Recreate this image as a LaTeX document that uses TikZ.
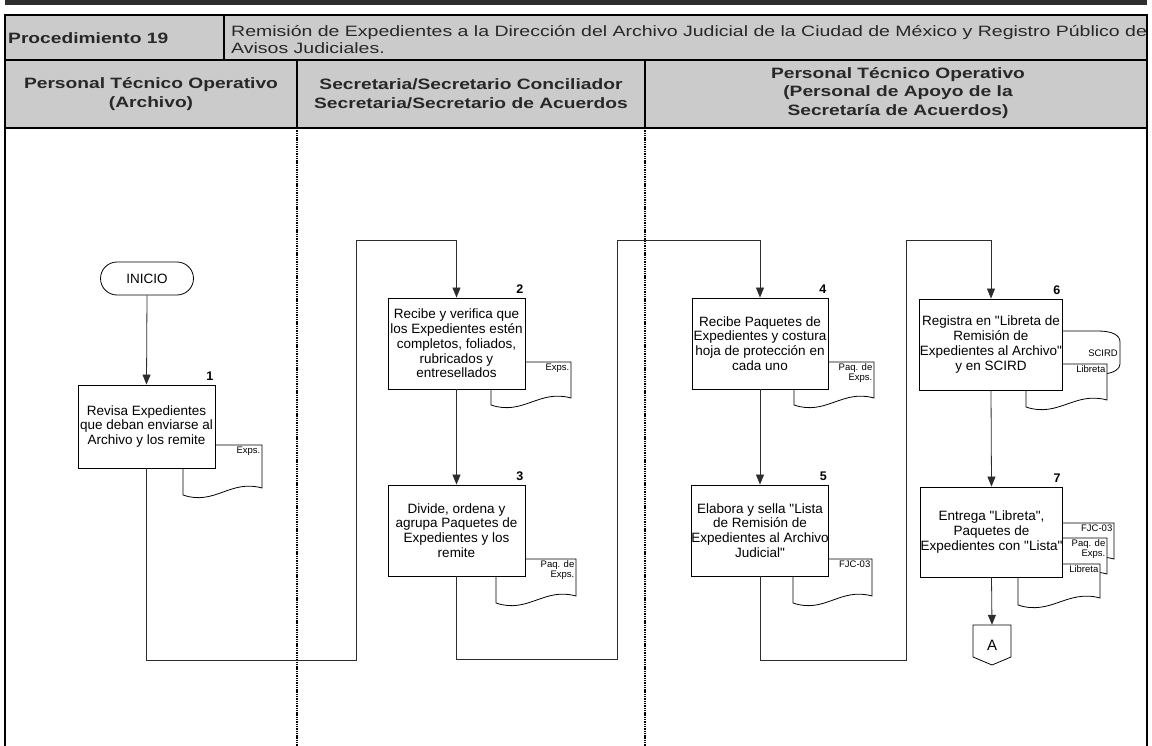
\documentclass[tikz,border=0pt]{standalone}
\usepackage{fontspec}
\setmainfont{Liberation Sans}
\newfontfamily\bodyfont{Liberation Sans}
\newfontfamily\hdrfont{Liberation Sans}[FakeStretch=1.28]
\newfontfamily\ttlfont{Liberation Sans}[FakeStretch=1.30]
\usetikzlibrary{arrows.meta,shapes.misc}
\definecolor{hdrfill}{RGB}{203,203,203}
\definecolor{hdrtext}{RGB}{40,40,40}
\definecolor{barc}{RGB}{45,45,45}
\definecolor{connc}{RGB}{45,45,45}
\newcommand\mydoc[6]{%
  \draw[docline] (#2,#3) -- ({#2+#4},#3) -- ({#2+#4},{#3+#5-7})
    .. controls ({#2+0.6*#4},{#3+#5-16}) and ({#2+0.4*#4},{#3+#5+11}) .. (#2,{#3+#5}) -- cycle;
  \node[doclab] (#1) at ({#2+#4-1.5},{#3+1.5}) {#6};
}
\begin{document}
\begin{tikzpicture}[x=1pt,y=-1pt,
  hdrline/.style={draw=black,line width=1.1pt},
  lane/.style={draw=black,line width=1.7pt,dash pattern=on 1.4pt off 0.9pt},
  boxst/.style={draw=black,line width=0.9pt,fill=white,align=center,
    font=\bodyfont\fontsize{13.5}{14.8}\selectfont,inner sep=0pt,minimum width=137pt,minimum height=91pt},
  docline/.style={draw=black,line width=0.8pt,fill=white},
  doclab/.style={anchor=north east,align=right,inner sep=0pt,font=\bodyfont\fontsize{9.5}{10}\selectfont},
  stepno/.style={anchor=south east,inner sep=0pt,font=\bodyfont\bfseries\fontsize{12.5}{14}\selectfont},
  flow/.style={draw=connc,line width=0.8pt,-{Triangle[width=8pt,length=10pt]}},
  hdrtxt/.style={text=hdrtext,inner sep=0pt},
  termst/.style={draw=black,line width=0.8pt,rounded rectangle,minimum width=93pt,minimum height=33pt,
    inner sep=0pt,font=\bodyfont\fontsize{13.5}{15}\selectfont}
]
\useasboundingbox (0,0) rectangle (1152,746);

% top bar
\fill[barc] (5,0.5) rectangle (1147,5);

% header table
\draw[hdrline,fill=hdrfill] (5,15) rectangle (1147,128);
\draw[hdrline] (5,60) -- (1147,60);
\draw[hdrline] (224,15) -- (224,60);
\draw[hdrline] (297,60) -- (297,128);
\draw[hdrline] (645,60) -- (645,128);
\draw[hdrline] (5,128) -- (5,746);
\draw[hdrline] (1147,128) -- (1147,746);

\node[hdrtxt,anchor=west,font=\hdrfont\bfseries\fontsize{15}{18}\selectfont] (proc) at (8,38) {Procedimiento 19};
\node[hdrtxt,anchor=west,align=left,font=\ttlfont\fontsize{15}{17}\selectfont] (title) at (231,39.5)
  {Remisión de Expedientes a la Dirección del Archivo Judicial de la Ciudad de México y Registro Público de\\Avisos Judiciales.};
\node[hdrtxt,align=center,font=\hdrfont\bfseries\fontsize{15}{19}\selectfont] (h1) at (151,94)
  {Personal Técnico Operativo\\(Archivo)};
\node[hdrtxt,align=center,font=\hdrfont\bfseries\fontsize{15}{19}\selectfont] (h2) at (471,94)
  {Secretaria/Secretario Conciliador\\Secretaria/Secretario de Acuerdos};
\node[hdrtxt,align=center,font=\hdrfont\bfseries\fontsize{15}{18.5}\selectfont] (h3) at (898,93)
  {Personal Técnico Operativo\\(Personal de Apoyo de la\\Secretaría de Acuerdos)};

% lane separators
\draw[lane] (297,128) -- (297,746);
\draw[lane] (645,128) -- (645,746);

% documents (behind boxes)
\mydoc{d1}{183}{445}{79}{50}{Exps.}
\mydoc{d2}{491}{362}{80}{43}{Exps.}
\mydoc{d3}{496}{559}{80}{44}{Paq. de\\Exps.}
\mydoc{d4}{794}{362}{80}{43}{Paq. de\\Exps.}
\mydoc{d5}{793}{559}{79}{44}{FJC-03}
% SCIRD store
\draw[docline] (1000,331) -- (1098,331) .. controls (1112,331) and (1120,335) .. (1120,342)
  -- (1120,364) .. controls (1120,369) and (1114,373) .. (1104,374) -- (1000,374) -- cycle;
\node[anchor=east,inner sep=0pt,font=\bodyfont\fontsize{9.5}{10}\selectfont] (scird) at (1118,353) {SCIRD};
\mydoc{d6}{1026}{364}{81}{43}{Libreta}
\mydoc{d7a}{1034}{523}{80}{43}{FJC-03}
\mydoc{d7b}{1027}{538}{80}{43}{Paq. de\\Exps.}
\mydoc{d7c}{1018}{564}{82}{41}{Libreta}

% start
\node[termst] (ini) at (147,278.5) {INICIO};

% process boxes
\node[boxst,minimum height=83pt] (b1) at (146.5,426.5) {Revisa Expedientes\\que deban enviarse al\\Archivo y los remite};
\node[boxst] (b2) at (456.5,343.5) {Recibe y verifica que\\los Expedientes estén\\completos, foliados,\\rubricados y\\entresellados};
\node[boxst] (b3) at (456.5,530.5) {Divide, ordena y\\agrupa Paquetes de\\Expedientes y los\\remite};
\node[boxst,minimum width=136pt] (b4) at (760,343.5) {Recibe Paquetes de\\Expedientes y costura\\hoja de protección en\\cada uno};
\node[boxst,minimum width=136pt] (b5) at (760,530.5) {Elabora y sella "Lista\\de Remisión de\\Expedientes al Archivo\\Judicial"};
\node[boxst,minimum width=136pt] (b6) at (991,344.5) {Registra en "Libreta de\\Remisión de\\Expedientes al Archivo"\\y en SCIRD};
\node[boxst,minimum width=137pt,minimum height=90pt] (b7) at (991.5,532) {Entrega "Libreta",\\Paquetes de\\Expedientes con "Lista"};

% step numbers
\node[stepno] (n1) at ([xshift=-2pt,yshift=4pt]b1.north east) {1};
\node[stepno] (n2) at ([xshift=-2pt,yshift=4pt]b2.north east) {2};
\node[stepno] (n3) at ([xshift=-2pt,yshift=4pt]b3.north east) {3};
\node[stepno] (n4) at ([xshift=-2pt,yshift=4pt]b4.north east) {4};
\node[stepno] (n5) at ([xshift=-2pt,yshift=4pt]b5.north east) {5};
\node[stepno] (n6) at ([xshift=-2pt,yshift=4pt]b6.north east) {6};
\node[stepno] (n7) at ([xshift=-2pt,yshift=4pt]b7.north east) {7};

% off-page connector
\node[inner sep=0pt,minimum width=38pt,minimum height=40pt,font=\bodyfont\fontsize{15}{17}\selectfont] (A) at (992,645) {A};
\draw[draw=black,line width=0.8pt] (973,625) -- (1011,625) -- (1011,657) -- (992,665) -- (973,657) -- cycle;

% route points
\coordinate (r1a) at (356,660);
\coordinate (r1b) at (356,240);
\coordinate (r2a) at (617,659);
\coordinate (r2b) at (617,240);
\coordinate (r3a) at (906,660);
\coordinate (r3b) at (906,240);

% connectors
\draw[flow] (ini.south) -- (b1.north);
\draw[flow] (b1.south) |- (r1a) -- (r1b) -| (b2.north);
\draw[flow] (b2.south) -- (b3.north);
\draw[flow] (b3.south) |- (r2a) -- (r2b) -| (b4.north);
\draw[flow] (b4.south) -- (b5.north);
\draw[flow] (b5.south) |- (r3a) -- (r3b) -| (b6.north);
\draw[flow] (b6.south) -- (b7.north);
\draw[flow] (b7.south) -- (A.north);
\end{tikzpicture}
\end{document}
